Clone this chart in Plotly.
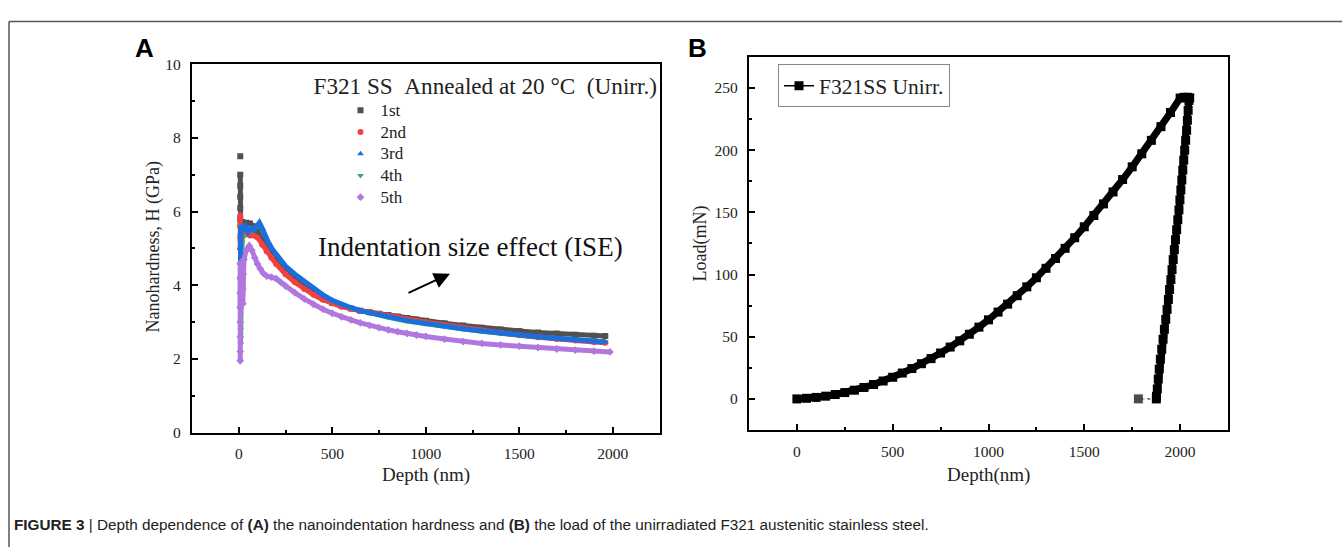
import plotly.graph_objects as go

W, H = 1342, 555

# ---------------- Panel A data: (depth nm, hardness GPa) ----------------
A_1ST = [(8, 7.5), (None, None), (8, 7.0), (8, 6.7), (8, 6.4), (8, 6.1), (8, 5.8), (10, 5.7), (20, 5.72),
         (40, 5.7), (60, 5.68), (80, 5.6), (100, 5.45), (125, 5.2), (150, 4.98), (175, 4.8), (200, 4.65),
         (250, 4.4), (300, 4.2), (350, 4.02), (400, 3.84), (450, 3.66), (500, 3.52), (550, 3.44), (600, 3.37),
         (650, 3.31), (700, 3.27), (750, 3.23), (800, 3.19), (850, 3.15), (900, 3.11), (950, 3.07), (1000, 3.04),
         (1100, 2.97), (1200, 2.91), (1300, 2.85), (1400, 2.8), (1500, 2.76), (1600, 2.72), (1700, 2.69),
         (1800, 2.66), (1900, 2.63), (1960, 2.62)]
A_2ND = [(8, 5.9), (8, 5.6), (8, 5.3), (8, 5.0), (10, 5.2), (20, 5.5), (40, 5.45), (60, 5.35), (80, 5.35),
         (100, 5.3), (125, 5.1), (150, 4.92), (175, 4.75), (200, 4.58), (250, 4.3), (300, 4.08), (350, 3.9),
         (400, 3.74), (450, 3.61), (500, 3.51), (550, 3.42), (600, 3.36), (650, 3.31), (700, 3.27), (750, 3.23),
         (800, 3.18), (850, 3.13), (900, 3.08), (950, 3.04), (1000, 3.0), (1100, 2.92), (1200, 2.85),
         (1300, 2.78), (1400, 2.71), (1500, 2.65), (1600, 2.59), (1700, 2.54), (1800, 2.5), (1900, 2.46),
         (1960, 2.44)]
A_3RD = [(8, 3.4), (8, 3.8), (8, 4.2), (8, 4.6), (8, 5.0), (8, 5.4), (10, 5.6), (20, 5.5), (35, 5.6),
         (50, 5.45), (65, 5.55), (80, 5.5), (95, 5.6), (110, 5.7), (125, 5.55), (140, 5.35), (160, 5.15),
         (180, 4.98), (200, 4.85), (250, 4.52), (300, 4.3), (350, 4.1), (400, 3.91), (450, 3.74), (500, 3.59),
         (550, 3.48), (600, 3.39), (650, 3.31), (700, 3.25), (750, 3.19), (800, 3.14), (850, 3.09), (900, 3.04),
         (950, 3.0), (1000, 2.96), (1100, 2.89), (1200, 2.82), (1300, 2.76), (1400, 2.7), (1500, 2.65),
         (1600, 2.6), (1700, 2.56), (1800, 2.52), (1900, 2.48), (1960, 2.46)]
A_4TH = [(10, 2.4), (10, 2.8), (10, 3.2), (10, 3.6), (12, 4.2), (15, 4.8), (20, 5.3), (40, 5.4), (60, 5.35),
         (80, 5.4), (100, 5.5), (120, 5.45), (150, 5.2), (200, 4.8), (250, 4.48), (300, 4.26), (350, 4.07),
         (400, 3.89), (450, 3.72), (500, 3.58), (600, 3.38), (700, 3.24), (800, 3.13), (900, 3.03), (1000, 2.95),
         (1100, 2.88), (1200, 2.81), (1300, 2.75), (1400, 2.69), (1500, 2.64), (1600, 2.59), (1700, 2.55),
         (1800, 2.51), (1900, 2.48), (1960, 2.47)]
A_5TH = [(8, 4.6), (8, 4.2), (8, 3.8), (8, 3.4), (8, 3.0), (8, 2.6), (8, 2.2), (8, 1.95), (None, None),
         (22, 3.5), (22, 3.9), (24, 4.3), (28, 4.7), (40, 4.95), (56, 5.07), (70, 4.95), (85, 4.75), (100, 4.58),
         (115, 4.45), (130, 4.33), (150, 4.25), (175, 4.22), (200, 4.18), (225, 4.08), (250, 3.98), (300, 3.8),
         (350, 3.63), (400, 3.48), (450, 3.35), (500, 3.24), (550, 3.14), (600, 3.06), (650, 2.98), (700, 2.91),
         (750, 2.85), (800, 2.79), (850, 2.74), (900, 2.69), (950, 2.65), (1000, 2.61), (1100, 2.54),
         (1200, 2.47), (1300, 2.42), (1400, 2.38), (1500, 2.35), (1600, 2.31), (1700, 2.27), (1800, 2.24),
         (1900, 2.21), (1985, 2.19)]

SERIES_NAMES = ["1st", "2nd", "3rd", "4th", "5th"]
SERIES_DATA = [A_1ST, A_2ND, A_3RD, A_4TH, A_5TH]
SERIES_COLORS = ["#515151", "#F14040", "#1A6FDF", "#37AD6B", "#B177DE"]
SERIES_SYMBOLS = ["square", "circle", "triangle-up", "triangle-down", "diamond"]
DRAW_ORDER = [3, 0, 1, 2, 4]
LEGEND_TITLE = "F321 SS\u00a0\u00a0Annealed at 20 °C\u00a0\u00a0(Unirr.)"

# ---------------- Panel B data ----------------
B_LOAD_DEPTH = [0, 50, 100, 150, 200, 250, 300, 350, 400, 450, 500, 550, 600, 650, 700, 750, 800, 850, 900,
                950, 1000, 1050, 1100, 1150, 1200, 1250, 1300, 1350, 1400, 1450, 1500, 1550, 1600, 1650, 1700,
                1750, 1800, 1850, 1900, 1950, 2000, 2020, 2040, 2050]
B_LOAD_VALUE = [0, 0.5, 1.2, 2.2, 3.5, 5.1, 7.0, 9.2, 11.6, 14.4, 17.4, 20.8, 24.4, 28.3, 32.4, 36.9, 41.7, 46.7,
                52.0, 57.7, 63.6, 69.8, 76.2, 83.0, 90.1, 97.4, 105.0, 112.9, 121.1, 129.6, 138.4, 147.5, 156.8,
                166.4, 176.4, 186.6, 197.1, 207.9, 218.9, 230.3, 241.9, 242.5, 242.5, 242.0]
B_UNLOAD_DEPTH = [2046, 2042, 2038, 2034, 2029, 2024, 2019, 2014, 2009, 2004, 1999, 1994, 1988, 1982, 1976,
                  1970, 1964, 1958, 1952, 1945, 1939, 1932, 1925, 1918, 1911, 1904, 1897, 1891, 1886, 1881,
                  1877, 1876]
B_UNLOAD_VALUE = [240, 232, 224, 216, 208, 200, 192, 184, 176, 168, 160, 152, 144, 136, 128, 120, 112, 104, 96,
                  88, 80, 72, 64, 56, 48, 40, 32, 24, 16, 8, 2, 0]
B_TAIL_DEPTH = [1876, 1782]
B_TAIL_VALUE = [0, 0]

fig = go.Figure()

# Panel A traces: thick band (no legend) + markers (legend)
for i in DRAW_ORDER:
    pts = SERIES_DATA[i]
    xs = [p[0] for p in pts]
    ys = [p[1] for p in pts]
    fig.add_trace(go.Scatter(x=xs, y=ys, mode="lines", line=dict(color=SERIES_COLORS[i], width=5),
                             showlegend=False, hoverinfo="skip", xaxis="x", yaxis="y",
                             connectgaps=False))
    fig.add_trace(go.Scatter(x=xs, y=ys, mode="markers",
                             name='<span style="font-size:17px">' + SERIES_NAMES[i] + "</span>",
                             marker=dict(symbol=SERIES_SYMBOLS[i], color=SERIES_COLORS[i], size=6,
                                         line=dict(width=0)),
                             legend="legend", legendrank=i + 1, xaxis="x", yaxis="y"))

# Panel B traces
b_x = B_LOAD_DEPTH + B_UNLOAD_DEPTH
b_y = B_LOAD_VALUE + B_UNLOAD_VALUE
fig.add_trace(go.Scatter(x=B_TAIL_DEPTH, y=B_TAIL_VALUE, mode="lines+markers", showlegend=False,
                         line=dict(color="black", width=1, dash="dot"),
                         marker=dict(symbol="square", color="black", size=[0, 10]),
                         xaxis="x2", yaxis="y2"))
fig.add_trace(go.Scatter(x=b_x, y=b_y, mode="lines", showlegend=False, hoverinfo="skip",
                         line=dict(color="black", width=7), xaxis="x2", yaxis="y2"))
fig.add_trace(go.Scatter(x=b_x, y=b_y, mode="lines+markers", name="F321SS Unirr.",
                         line=dict(color="black", width=1.5),
                         marker=dict(symbol="square", color="black", size=9),
                         legend="legend2", xaxis="x2", yaxis="y2"))

SERIF = "Liberation Serif, Times New Roman, serif"
SANS = "Liberation Sans, Arial, sans-serif"


def px_x(v):
    return v / W


def px_y(v):
    return 1 - v / H


axis_common = dict(showline=True, linecolor="black", linewidth=2.2, mirror=True, ticks="inside",
                   ticklen=6, tickwidth=1.8, tickcolor="black", showgrid=False, zeroline=False,
                   tickfont=dict(family=SERIF, size=15.5, color="#222"), ticklabelstandoff=6)

fig.update_layout(
    width=W, height=H, margin=dict(l=0, r=0, t=0, b=0),
    paper_bgcolor="white", plot_bgcolor="white",
    font=dict(family=SERIF, color="#222"),
    xaxis=dict(domain=[px_x(192), px_x(659.5)], range=[-250, 2250], tick0=0, dtick=500, anchor="y",
               minor=dict(ticks="inside", ticklen=3, tickwidth=1.8, tick0=0, dtick=250, tickcolor="black"),
               **axis_common),
    yaxis=dict(domain=[px_y(437), px_y(57)], range=[0, 10], tick0=0, dtick=2, anchor="x",
               minor=dict(ticks="inside", ticklen=3, tickwidth=1.8, tick0=0, dtick=1, tickcolor="black"),
               **axis_common),
    xaxis2=dict(domain=[px_x(749), px_x(1228)], range=[-250, 2250], tick0=0, dtick=500, anchor="y2",
                minor=dict(ticks="inside", ticklen=3, tickwidth=1.8, tick0=0, dtick=250, tickcolor="black"),
                **axis_common),
    yaxis2=dict(domain=[px_y(434.3), px_y(49.4)], range=[-25, 275], tick0=0, dtick=50, anchor="x2",
                minor=dict(ticks="inside", ticklen=3, tickwidth=1.8, tick0=0, dtick=25, tickcolor="black"),
                **axis_common),
    legend=dict(x=px_x(311.5), y=px_y(57), xanchor="left", yanchor="top", bgcolor="rgba(0,0,0,0)",
                borderwidth=0, font=dict(family=SERIF, size=14.4, color="#222"),
                title=dict(text=LEGEND_TITLE, font=dict(family=SERIF, size=23.2, color="#222")),
                indentation=29, tracegroupgap=0),
    legend2=dict(x=px_x(778), y=px_y(57), xanchor="left", yanchor="top", bgcolor="white",
                 bordercolor="#888", borderwidth=1, font=dict(family=SERIF, size=21.5, color="#222")),
    showlegend=True,
)

annotations = [
    dict(text="Nanohardness, H (GPa)", x=px_x(153), y=px_y(246), textangle=-90,
         font=dict(family=SERIF, size=18, color="#222")),
    dict(text="Depth (nm)", x=px_x(426), y=px_y(481), font=dict(family=SERIF, size=19, color="#222")),
    dict(text="Load(mN)", x=px_x(701), y=px_y(242), textangle=-90,
         font=dict(family=SERIF, size=18, color="#222")),
    dict(text="Depth(nm)", x=px_x(988), y=px_y(481), font=dict(family=SERIF, size=19, color="#222")),
    dict(text="Indentation size effect (ISE)", x=px_x(471), y=px_y(246),
         font=dict(family=SERIF, size=27, color="#111")),
    dict(text="<b>A</b>", x=px_x(144), y=px_y(40), font=dict(family=SANS, size=26, color="black")),
    dict(text="<b>B</b>", x=px_x(697), y=px_y(40), font=dict(family=SANS, size=26, color="black")),
    dict(text="<b>FIGURE 3</b> | Depth dependence of <b>(A)</b> the nanoindentation hardness and <b>(B)</b> "
              "the load of the unirradiated F321 austenitic stainless steel.",
         x=px_x(12), y=px_y(532), xanchor="left",
         font=dict(family="Liberation Sans, Arial, sans-serif", size=15.3, color="#222")),
]
for a in annotations:
    a.setdefault("xref", "paper")
    a.setdefault("yref", "paper")
    a.setdefault("showarrow", False)
    a.setdefault("xanchor", "center")
    a.setdefault("yanchor", "middle")

annotations.append(dict(text="", x=px_x(450), y=px_y(273), xref="paper", yref="paper", showarrow=True,
                        ax=-43, ay=20, arrowhead=2, arrowsize=1.6, arrowwidth=2, arrowcolor="black"))
fig.update_layout(annotations=annotations)

fig.update_layout(shapes=[
    dict(type="line", xref="paper", yref="paper", x0=px_x(9), x1=1, y0=px_y(13), y1=px_y(13),
         line=dict(color="#555", width=1.5)),
    dict(type="line", xref="paper", yref="paper", x0=px_x(9), x1=px_x(9), y0=px_y(13), y1=0,
         line=dict(color="#555", width=1.5)),
])

fig.write_html("out.html")
